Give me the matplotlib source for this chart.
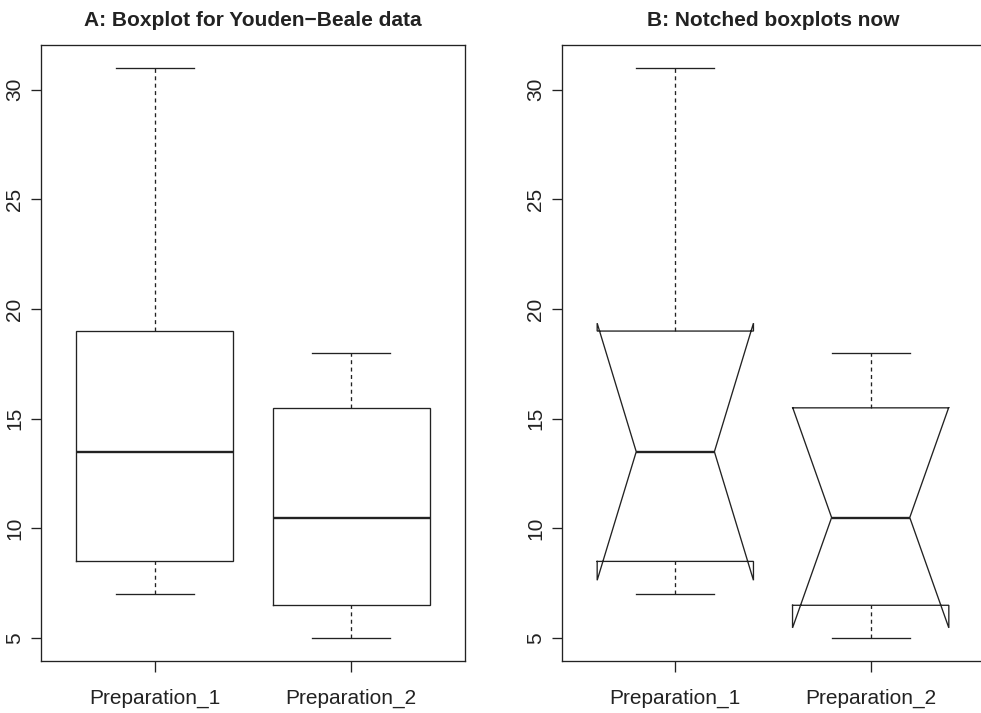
import matplotlib
matplotlib.use("Agg")
import matplotlib.pyplot as plt

plt.rcParams['font.family'] = ['Liberation Sans', 'DejaVu Sans']

# Youden-Beale summary statistics per preparation
groups = ["Preparation_1", "Preparation_2"]
whisker_low = [7.0, 5.0]
q1 = [8.5, 6.5]
median = [13.5, 10.5]
q3 = [19.0, 15.5]
whisker_high = [31.0, 18.0]
notch_low = [7.64, 5.47]
notch_high = [19.36, 15.53]

titles = ["A: Boxplot for Youden\u2212Beale data", "B: Notched boxplots now"]
yticks = [5, 10, 15, 20, 25, 30]

W, H = 981, 713
fig = plt.figure(figsize=(W / 100, H / 100), dpi=100)

ax_boxes = [
    (41, 45, 465, 661),
    (562, 45, 984, 661),
]

ink = "#222222"
half = 0.4          # half box width
staple = 0.2        # half staple width
notch_frac = 0.5
lw = 0.95
med_lw = 1.7
dash = (0, (3, 2.6))


def draw_box(ax, i, notched):
    x = i + 1
    # whiskers and staples
    ax.plot([x, x], [whisker_low[i], q1[i]], color=ink, lw=lw, ls=dash)
    ax.plot([x, x], [q3[i], whisker_high[i]], color=ink, lw=lw, ls=dash)
    ax.plot([x - staple, x + staple], [whisker_low[i]] * 2, color=ink, lw=lw)
    ax.plot([x - staple, x + staple], [whisker_high[i]] * 2, color=ink, lw=lw)
    if notched:
        wn = half * notch_frac
        xs = [x - half, x - half, x - wn, x - half, x - half,
              x + half, x + half, x + wn, x + half, x + half, x - half]
        ys = [q1[i], notch_low[i], median[i], notch_high[i], q3[i],
              q3[i], notch_high[i], median[i], notch_low[i], q1[i], q1[i]]
        ax.plot(xs, ys, color=ink, lw=lw, solid_joinstyle="miter")
        ax.plot([x - wn, x + wn], [median[i]] * 2, color=ink, lw=med_lw,
                solid_capstyle="butt")
    else:
        xs = [x - half, x + half, x + half, x - half, x - half]
        ys = [q1[i], q1[i], q3[i], q3[i], q1[i]]
        ax.plot(xs, ys, color=ink, lw=lw, solid_joinstyle="miter")
        ax.plot([x - half, x + half], [median[i]] * 2, color=ink, lw=med_lw,
                solid_capstyle="butt")


for k, (l, t, r, b) in enumerate(ax_boxes):
    ax = fig.add_axes([l / W, 1 - b / H, (r - l) / W, (b - t) / H])
    for i in range(len(groups)):
        draw_box(ax, i, notched=(k == 1))
    ax.set_xlim(0.42, 2.58)
    ax.set_ylim(3.96, 32.04)
    ax.set_xticks([1, 2])
    ax.set_xticklabels(groups, fontsize=15, color=ink)
    ax.set_yticks(yticks)
    ax.set_yticklabels([str(v) for v in yticks], fontsize=15, rotation=90,
                       va="center", color=ink)
    ax.tick_params(axis="x", length=8, width=lw, pad=12, color=ink)
    ax.tick_params(axis="y", length=7, width=lw, pad=5, color=ink)
    for s in ax.spines.values():
        s.set_linewidth(lw)
        s.set_color(ink)
    ax.set_title(titles[k], fontsize=15, fontweight="bold", pad=14, color=ink)

fig.savefig("out.png", dpi=100, facecolor="white")
